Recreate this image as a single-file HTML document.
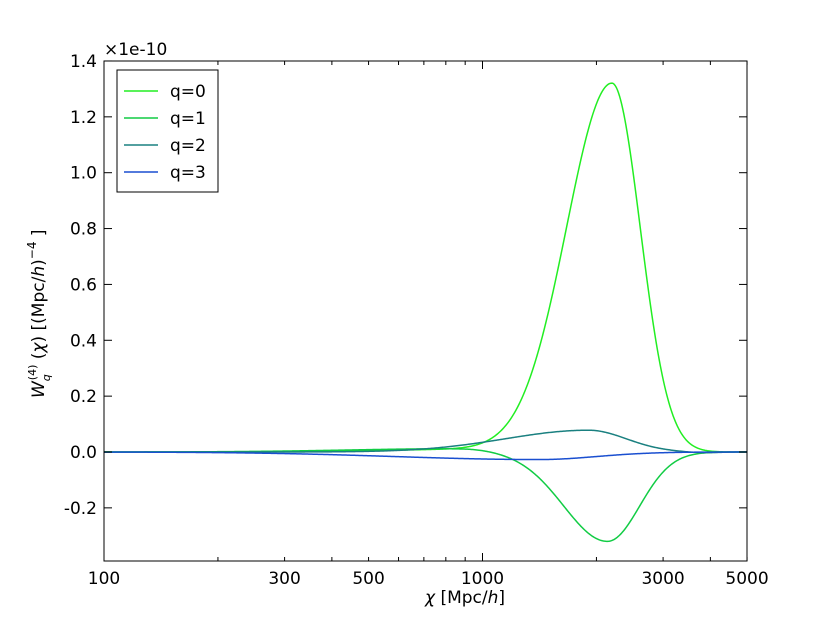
<!DOCTYPE html>
<html><head><meta charset="utf-8"><style>body{margin:0;background:#fff}svg{display:block}text{font-family:"DejaVu Sans","Liberation Sans",sans-serif;font-size:17px;fill:#000}</style></head>
<body>
<svg id="s" width="830" height="623" xmlns="http://www.w3.org/2000/svg">
<rect width="830" height="623" fill="#fff"/>
<g id="curves"></g>
<rect x="104" y="61" width="643" height="500" fill="none" stroke="#000" stroke-width="1"/>
<g id="ticks" stroke="#000" stroke-width="1"></g>
<g id="labels"></g>
<text x="104" y="55" font-size="16">×1e-10</text>
<text x="425" y="603" font-family="Liberation Serif,serif" font-size="18"><tspan font-style="italic">χ</tspan> [Mpc/<tspan font-style="italic">h</tspan>]</text>
<text transform="translate(44,398) rotate(-90)" font-family="Liberation Serif,serif" font-size="18"><tspan font-style="italic">W</tspan><tspan font-size="11" dy="6" font-style="italic">q</tspan><tspan font-size="11" dy="-14" dx="-6">(4)</tspan><tspan dy="8"> (<tspan font-style="italic">χ</tspan>) [(Mpc/<tspan font-style="italic">h</tspan>)</tspan><tspan font-size="12" dy="-8">−4</tspan><tspan dy="8"> ]</tspan></text>
<rect x="117" y="70" width="101" height="122" fill="#fff" stroke="#000" stroke-width="1"/>
<line x1="124" y1="91" x2="158" y2="91" stroke="#22ee22" stroke-width="1.5"/><text x="170" y="97">q=0</text>
<line x1="124" y1="118" x2="158" y2="118" stroke="#11cc44" stroke-width="1.5"/><text x="170" y="124">q=1</text>
<line x1="124" y1="145" x2="158" y2="145" stroke="#1a8080" stroke-width="1.5"/><text x="170" y="151">q=2</text>
<line x1="124" y1="172" x2="158" y2="172" stroke="#1a4fd0" stroke-width="1.5"/><text x="170" y="178">q=3</text>
</svg>
<script>
var NS="http://www.w3.org/2000/svg";
function X(c){return 104+378.5*(Math.log10(c)-2);}
function Y(v){return 452-v*279.3;}
function ag(u,a,m,sl,sr){var d=u-m,s=d<0?sl:sr;return a*Math.exp(-d*d/(2*s*s));}
var series=[
 ["#22ee22",function(u){return ag(u,1.32,3.342,0.12,0.075)+ag(u,0.01,3.0,0.25,0.15);}],
 ["#11cc44",function(u){return ag(u,-0.32,3.33,0.115,0.085)+ag(u,0.012,2.95,0.3,0.08);}],
 ["#1a8080",function(u){return ag(u,0.078,3.28,0.22,0.1)+ag(u,-0.003,3.58,0.04,0.04);}],
 ["#1a4fd0",function(u){return ag(u,-0.027,3.15,0.38,0.15);}]];
var g=document.getElementById("curves");
series.forEach(function(s){var d="";for(var i=0;i<=600;i++){var u=2+1.699*i/600;d+=(i?"L":"M")+X(Math.pow(10,u)).toFixed(2)+","+Y(s[1](u)).toFixed(2);}
var p=document.createElementNS(NS,"path");p.setAttribute("d",d);p.setAttribute("fill","none");p.setAttribute("stroke",s[0]);p.setAttribute("stroke-width","1.5");g.appendChild(p);});
var t=document.getElementById("ticks"),L=document.getElementById("labels");
function ln(a,b,c,d){var l=document.createElementNS(NS,"line");l.setAttribute("x1",a);l.setAttribute("y1",b);l.setAttribute("x2",c);l.setAttribute("y2",d);t.appendChild(l);}
function tx(x,y,s,anc){var e=document.createElementNS(NS,"text");e.setAttribute("x",x);e.setAttribute("y",y);e.setAttribute("text-anchor",anc);e.textContent=s;L.appendChild(e);}
[100,200,300,400,500,600,700,800,900,1000,2000,3000,4000,5000].forEach(function(c){var x=X(c);var maj=[100,1000].indexOf(c)>=0;var len=maj?8:4;ln(x,561,x,561-len);ln(x,61,x,61+len);});
[[100,"100"],[300,"300"],[500,"500"],[1000,"1000"],[3000,"3000"],[5000,"5000"]].forEach(function(a){tx(X(a[0]),584,a[1],"middle");});
[1.4,1.2,1.0,0.8,0.6,0.4,0.2,0.0,-0.2].forEach(function(v){var y=Y(v);ln(104,y,112,y);ln(747,y,739,y);tx(97,y+6,v.toFixed(1),"end");});
</script>
</body></html>
